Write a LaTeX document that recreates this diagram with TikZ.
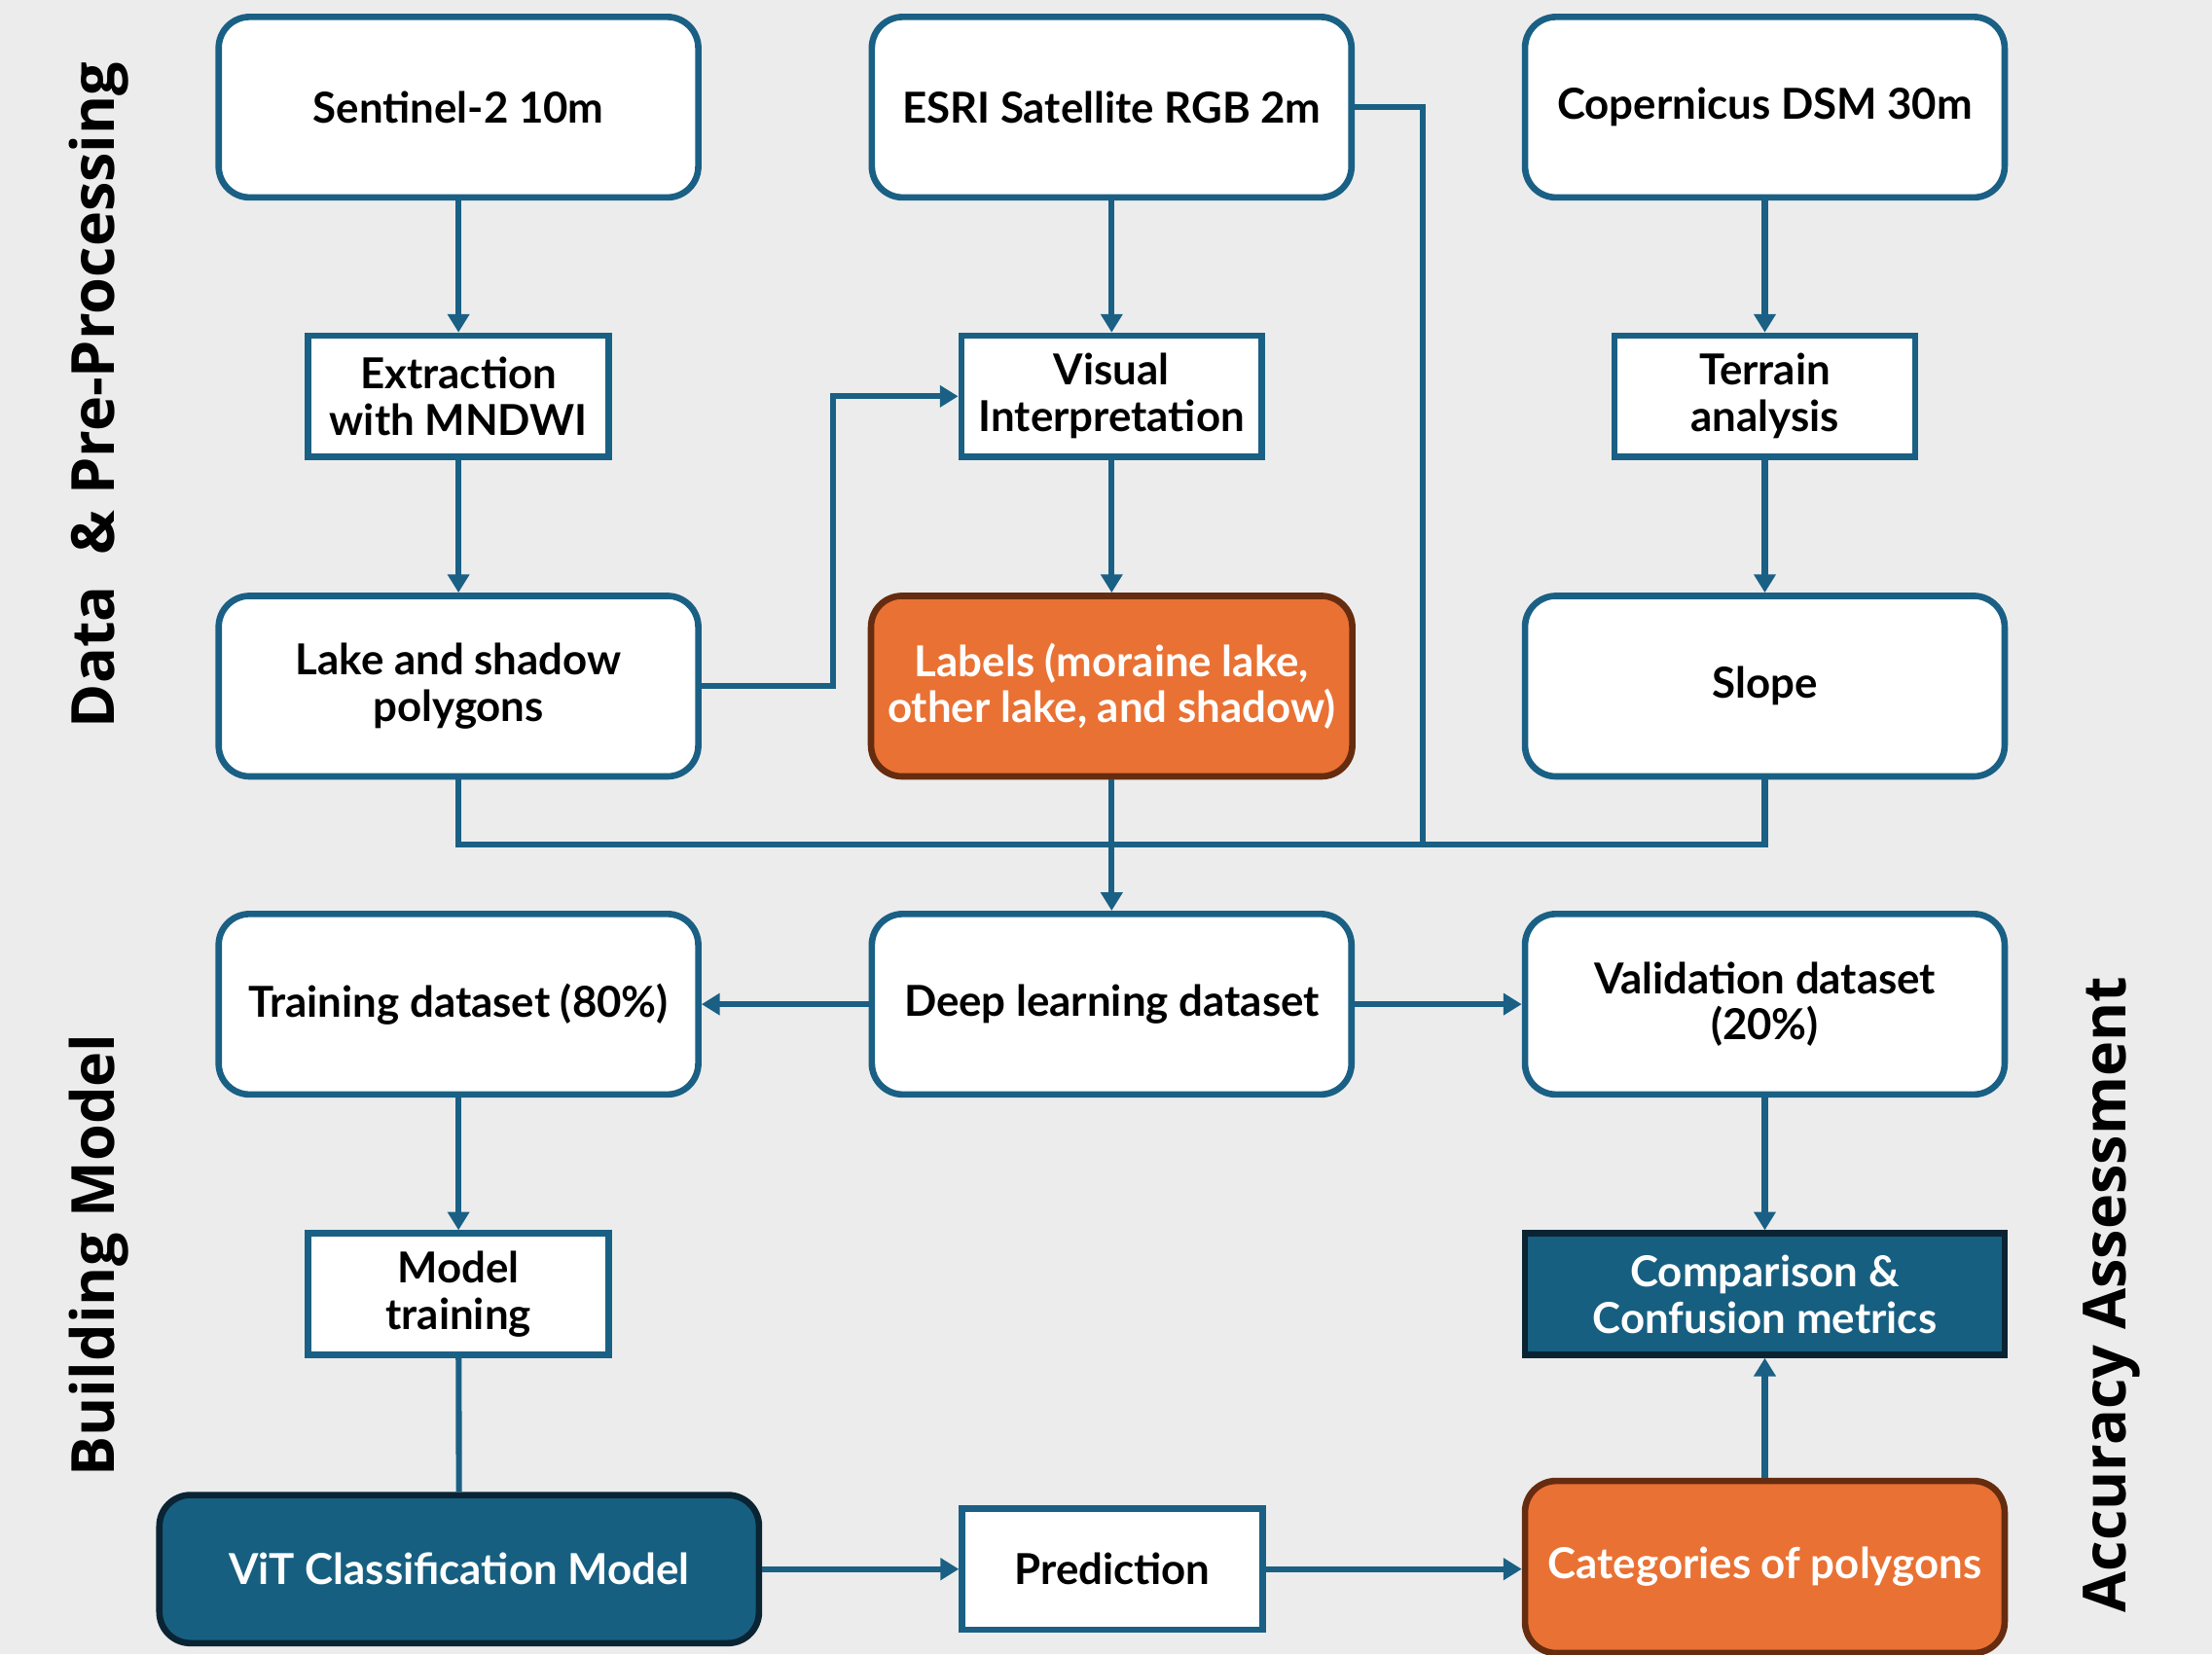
\documentclass[tikz,border=0pt]{standalone}
\usepackage{fontspec}
\setmainfont{Lato}
\newfontfamily\sidefont{Open Sans}
\usetikzlibrary{positioning, arrows.meta}
\definecolor{mybg}{RGB}{236,236,236}
\definecolor{myblue}{RGB}{26,96,133}
\definecolor{mydark}{RGB}{23,95,128}
\definecolor{mynavy}{RGB}{10,36,52}
\definecolor{myorange}{RGB}{233,113,51}
\definecolor{mybrown}{RGB}{102,44,16}

\tikzset{
	rbox/.style = {rectangle, rounded corners=0.22cm, draw=myblue, line width=1.3pt, fill=white, minimum width=3.4cm, minimum height=1.28cm, align=center, font=\fontsize{8.6}{9.4}\selectfont\bfseries},
	sbox/.style = {rectangle, draw=myblue, line width=1.3pt, fill=white, minimum width=2.13cm, minimum height=0.86cm, align=center, font=\fontsize{8.6}{9.4}\selectfont\bfseries},
	obox/.style = {rbox, fill=myorange, draw=mybrown, text=white},
	dbox/.style = {rbox, fill=mydark, draw=mynavy, text=white},
	side/.style = {rotate=90, font=\fontsize{12}{14}\selectfont\sidefont\bfseries},
	link/.style = {draw=myblue, line width=1.2pt},
	arr/.style = {link, -{Triangle[length=1.3mm, width=1.5mm]}}
}

\begin{document}
\begin{tikzpicture}

\fill[mybg] (0,0) rectangle (15.68,-11.73);
\useasboundingbox (0,0) rectangle (15.68,-11.73);

%---------SOURCES-----------%
\node [rbox] (sen) at (3.25,-0.76) {Sentinel-2 10m};
\node [rbox] (esri) at (7.88,-0.76) {ESRI Satellite RGB 2m};
\node [rbox] (cop) at (12.51,-0.76) {Copernicus DSM 30m};

\node [sbox] (ext) at (3.25,-2.81) {Extraction\\with MNDWI};
\node [sbox] (vis) at (7.88,-2.81) {Visual\\Interpretation};
\node [sbox] (ter) at (12.51,-2.81) {Terrain\\analysis};

\node [rbox] (lake) at (3.25,-4.865) {Lake and shadow\\polygons};
\node [obox] (lab) at (7.88,-4.865) {Labels (moraine lake,\\other lake, and shadow)};
\node [rbox] (slope) at (12.51,-4.865) {Slope};

\coordinate (bus) at (7.88,-5.99);

%---------DATASETS-----------%
\node [rbox] (train) at (3.25,-7.12) {Training dataset (80\%)};
\node [rbox] (deep) at (7.88,-7.12) {Deep learning dataset};
\node [rbox] (val) at (12.51,-7.12) {Validation dataset\\(20\%)};

\node [sbox] (mtrain) at (3.25,-9.175) {Model\\training};
\node [dbox, rounded corners=0pt, minimum height=0.86cm] (comp) at (12.51,-9.175) {Comparison \&\\Confusion metrics};

\node [dbox, minimum width=4.25cm, minimum height=1.05cm] (vit) at (3.255,-11.125) {ViT Classification Model};
\node [sbox] (pred) at (7.885,-11.125) {Prediction};
\node [obox, minimum height=1.22cm] (cat) at (12.51,-11.11) {Categories of polygons};

%---------SIDE TITLES-----------%
\node [side] (tdata) at (0.70,-2.80) {Data \ \& Pre-Processing};
\node [side] (tbuild) at (0.70,-8.90) {Building Model};
\node [side] (tacc) at (14.97,-9.18) {Accuracy Assessment};

%----------LINKS-------------%
\draw[arr] (sen) -- (ext);
\draw[arr] (esri) -- (vis);
\draw[arr] (cop) -- (ter);
\draw[arr] (ext) -- (lake);
\draw[arr] (vis) -- (lab);
\draw[arr] (ter) -- (slope);

\draw[arr] (lake.east) -- ++(0.93,0) |- (vis.west);

\draw[link] (lake.south) |- (bus) -| (slope.south);
\draw[link] (esri.east) -- ++(0.48,0) |- (bus);
\draw[link] (lab.south) -- (bus);
\draw[arr] (bus) -- (deep.north);

\draw[arr] (deep) -- (train);
\draw[arr] (deep) -- (val);
\draw[arr] (train) -- (mtrain);
\draw[link] (mtrain) -- (vit);
\draw[arr] (vit) -- (pred);
\draw[arr] (pred.east) -- (pred.east -| cat.west);
\draw[arr] (cat) -- (comp);
\draw[arr] (val) -- (comp);

\end{tikzpicture}
\end{document}
